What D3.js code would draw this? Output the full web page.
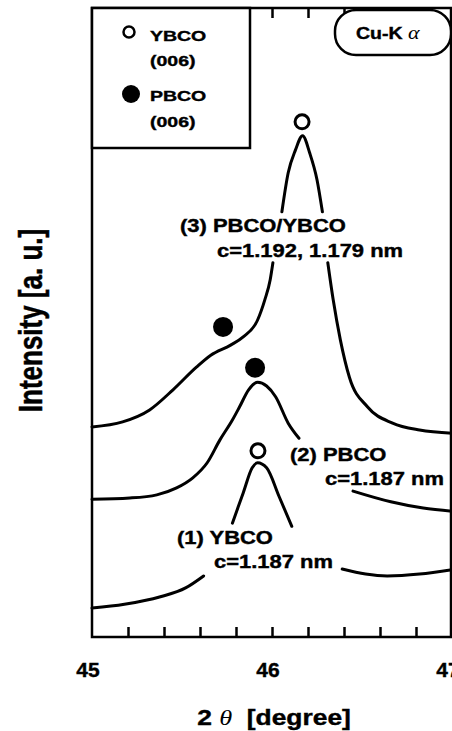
<!DOCTYPE html>
<html>
<head>
<meta charset="utf-8">
<script src="https://cdn.jsdelivr.net/npm/d3@7"></script>
<style>
  body { margin: 0; background: #fff; }
  text { font-family: "Liberation Sans", Arial, Helvetica, sans-serif; font-weight: bold; fill: #000; stroke: #000; stroke-width: 0.4px; }
</style>
</head>
<body>
<div id="chart"></div>
<script>
// 2theta [degree] vs intensity [a.u.], three XRD scans of the (006) peak
const xTicks = [45, 46, 47];

const ybcoTheta = [45.00, 45.18, 45.38, 45.52, 45.62, 45.70, 45.78, 45.84, 45.89, 45.92, 45.97, 46.04, 46.11, 46.21, 46.29, 46.39, 46.52, 46.64, 46.82, 47.00];
const ybcoInt = [4.6, 5.2, 6.4, 7.8, 9.7, 13.5, 18.1, 22.9, 26.9, 27.7, 26.9, 22.3, 17.6, 13.8, 11.9, 10.8, 10.0, 9.7, 10.0, 10.7];
const ybcoGaps = [[45.62, 45.78], [46.11, 46.39]];

const pbcoTheta = [45.00, 45.21, 45.36, 45.47, 45.56, 45.64, 45.71, 45.78, 45.82, 45.87, 45.92, 45.97, 46.02, 46.09, 46.15, 46.30, 46.45, 46.66, 46.84, 47.00];
const pbcoInt = [21.9, 22.1, 22.6, 23.7, 25.3, 27.7, 31.3, 34.5, 36.6, 39.3, 40.5, 39.9, 38.2, 34.0, 31.6, 26.2, 23.2, 21.5, 20.5, 20.0];
const pbcoGaps = [[46.15, 46.45]];

const multiTheta = [45.00, 45.17, 45.32, 45.45, 45.58, 45.66, 45.77, 45.84, 45.92, 45.96, 45.99, 46.005, 46.03, 46.055, 46.09, 46.13, 46.17, 46.21, 46.25, 46.28, 46.295, 46.31, 46.34, 46.38, 46.43, 46.53, 46.67, 46.82, 47.00];
const multiInt = [33.4, 34.2, 36.1, 39.3, 42.9, 44.8, 46.4, 47.7, 50.4, 53.6, 56.8, 59.5, 63.1, 67.6, 73.8, 77.4, 79.7, 76.9, 72.7, 67.6, 63.1, 59.5, 53.6, 47.2, 41.3, 36.6, 34.0, 32.9, 32.4];
const multiGaps = [[46.005, 46.055], [46.28, 46.31]];

// peak markers: open = YBCO (006), filled = PBCO (006)
const markerTheta = [46.167, 45.728, 45.906, 45.922];
const markerInt = [81.9, 49.3, 42.8, 29.6];
const markerKind = ["YBCO", "PBCO", "PBCO", "YBCO"];

const curveLabels = [
    ["(3) PBCO/YBCO", "c=1.192, 1.179 nm"],
    ["(2) PBCO", "c=1.187 nm"],
    ["(1) YBCO", "c=1.187 nm"]
];

let width = 452,
    height = 731,
    plotL = 92, plotR = 452, plotT = 8, plotB = 637,
    stretch = 1.22;

const svg = d3.select("#chart").append("svg")
    .attr("width", width)
    .attr("height", height);

const x = d3.scaleLinear().domain([45, 47]).range([plotL, plotR]);
const y = d3.scaleLinear().domain([0, 100]).range([plotB, plotT]);

function inGap(t, gaps) {
    return gaps.some(g => t > g[0] && t < g[1]);
}

function drawCurve(thetas, ints, gaps) {
    const pts = thetas.map((t, i) => ({t: t, v: ints[i]}));
    const line = d3.line()
        .defined(d => !inGap(d.t, gaps))
        .x(d => x(d.t))
        .y(d => y(d.v))
        .curve(d3.curveMonotoneX);
    svg.append("path")
        .datum(pts)
        .attr("d", line)
        .attr("fill", "none")
        .attr("stroke", "#000")
        .attr("stroke-width", 3)
        .attr("stroke-linecap", "round");
}

drawCurve(ybcoTheta, ybcoInt, ybcoGaps);
drawCurve(pbcoTheta, pbcoInt, pbcoGaps);
drawCurve(multiTheta, multiInt, multiGaps);

svg.append("g").selectAll("circle")
    .data(markerTheta.map((t, i) => ({t: t, v: markerInt[i], kind: markerKind[i]})))
    .enter().append("circle")
    .attr("cx", d => x(d.t))
    .attr("cy", d => y(d.v))
    .attr("r", d => d.kind === "YBCO" ? 7 : 10)
    .attr("fill", d => d.kind === "YBCO" ? "#fff" : "#000")
    .attr("stroke", "#000")
    .attr("stroke-width", d => d.kind === "YBCO" ? 3 : 0);

// stretched bold labels, like the scanned lettering
function label(str, px, py, size, sx) {
    return svg.append("text")
        .attr("transform", `translate(${px},${py}) scale(${sx || stretch},1)`)
        .style("font-size", size + "px")
        .text(str);
}

const labelPos = [[180, 232, 217, 257], [290, 461, 325, 485], [177, 544, 214, 568]];
curveLabels.forEach((l, i) => {
    const p = labelPos[i];
    label(l[0], p[0], p[1], 18);
    label(l[1], p[2], p[3], 18);
});

// frame and ticks
const axisB = d3.axisBottom(x).tickValues(d3.range(45.2, 46.9, 0.2)).tickSize(-10).tickFormat("");
const axisT = d3.axisTop(x).tickValues(d3.range(45.2, 46.9, 0.2)).tickSize(-10).tickFormat("");

svg.append("g").attr("transform", `translate(0,${plotB})`).call(axisB)
    .call(g => g.select(".domain").remove())
    .selectAll("line").attr("stroke-width", 2.5);
svg.append("g").attr("transform", `translate(0,${plotT})`).call(axisT)
    .call(g => g.select(".domain").remove())
    .selectAll("line").attr("stroke-width", 2.5);

svg.append("rect")
    .attr("x", plotL).attr("y", plotT)
    .attr("width", plotR - 1 - plotL).attr("height", plotB - plotT)
    .attr("fill", "none")
    .attr("stroke", "#000")
    .attr("stroke-width", 2.5);

svg.append("g").selectAll("text")
    .data(xTicks)
    .enter().append("text")
    .attr("x", d => x(d) - 4)
    .attr("y", 677)
    .attr("text-anchor", "middle")
    .style("font-size", "21px")
    .text(d => d);

const xTitle = svg.append("text")
    .attr("transform", `translate(${x(46) + 2},725) scale(1.2,1)`)
    .attr("text-anchor", "middle")
    .style("font-size", "22px");
xTitle.append("tspan").text("2 ");
xTitle.append("tspan").text("θ")
    .style("font-family", "'Liberation Serif', serif")
    .style("font-style", "italic")
    .style("font-weight", "normal")
    .style("stroke-width", "0");
xTitle.append("tspan").text("  [degree]").attr("xml:space", "preserve");

svg.append("text")
    .attr("transform", `translate(42,${(plotT + plotB) / 2 - 2}) rotate(-90) scale(1,1.3)`)
    .attr("text-anchor", "middle")
    .style("font-size", "26px")
    .text("Intensity [a. u.]");

// legend box
const legend = svg.append("g");
legend.append("rect")
    .attr("x", plotL).attr("y", plotT)
    .attr("width", 158).attr("height", 140)
    .attr("fill", "#fff")
    .attr("stroke", "#000")
    .attr("stroke-width", 2.5);
legend.append("circle")
    .attr("cx", 129).attr("cy", 32).attr("r", 5.5)
    .attr("fill", "#fff").attr("stroke", "#000").attr("stroke-width", 2.5);
legend.append("circle")
    .attr("cx", 131).attr("cy", 94).attr("r", 9)
    .attr("fill", "#000");
label("YBCO", 150, 41, 15, 1.3);
label("(006)", 150, 66, 15, 1.3);
label("PBCO", 150, 101, 15, 1.3);
label("(006)", 150, 127, 15, 1.3);

// radiation box
svg.append("rect")
    .attr("x", 335).attr("y", 10)
    .attr("width", 116).attr("height", 45)
    .attr("rx", 21)
    .attr("fill", "#fff")
    .attr("stroke", "#000")
    .attr("stroke-width", 2.5);
const rad = svg.append("text")
    .attr("transform", `translate(356,39) scale(1.22,1)`)
    .style("font-size", "16px");
rad.append("tspan").text("Cu-K ").attr("xml:space", "preserve");
rad.append("tspan").text("α")
    .style("font-family", "'Liberation Serif', serif")
    .style("font-style", "italic")
    .style("font-weight", "normal")
    .style("stroke-width", "0")
    .style("font-size", "18px");
</script>
</body>
</html>
